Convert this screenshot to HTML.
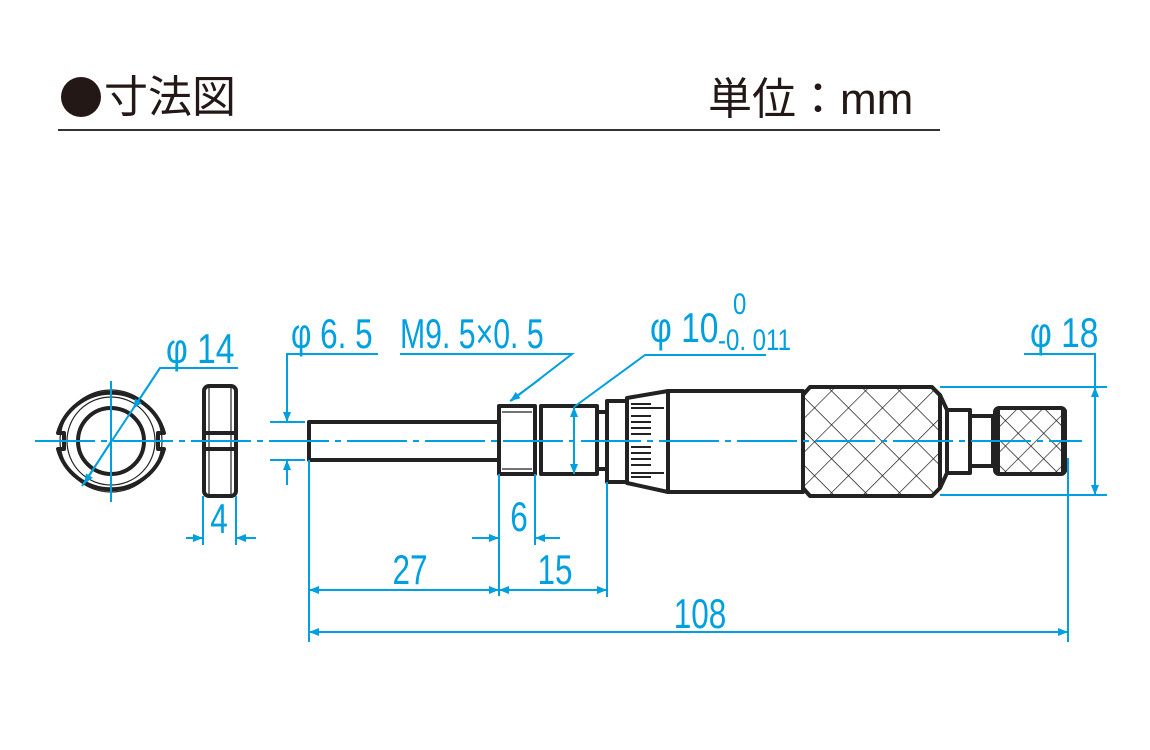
<!DOCTYPE html>
<html><head><meta charset="utf-8"><style>
html,body{margin:0;padding:0;background:#fff;width:1150px;height:750px;overflow:hidden}
svg{display:block}
.d{font-family:"Liberation Sans",sans-serif;fill:#00a0e0;font-size:42px}
.h{font-family:"Liberation Sans","Noto Sans CJK JP",sans-serif;fill:#231815;font-size:44px}
</style></head><body>
<svg width="1150" height="750" viewBox="0 0 1150 750" xmlns="http://www.w3.org/2000/svg">
<defs>
<pattern id="kn" width="24" height="24" patternUnits="userSpaceOnUse" patternTransform="rotate(45)">
<line x1="0" y1="0" x2="0" y2="24" stroke="#222" stroke-width="1.4"/>
<line x1="0" y1="0" x2="24" y2="0" stroke="#222" stroke-width="1.4"/>
</pattern>
<pattern id="kn2" width="18" height="18" patternUnits="userSpaceOnUse" patternTransform="rotate(45)">
<line x1="0" y1="0" x2="0" y2="18" stroke="#222" stroke-width="1.4"/>
<line x1="0" y1="0" x2="18" y2="0" stroke="#222" stroke-width="1.4"/>
</pattern>
<marker id="a" viewBox="0 0 10 10" refX="10" refY="5" markerWidth="14" markerHeight="10" markerUnits="userSpaceOnUse" orient="auto-start-reverse"><path d="M0,1 L10,5 L0,9 z" fill="#00a0e0"/></marker>
</defs>
<!-- header -->
<circle cx="81" cy="97" r="20" fill="#231815"/>
<text class="h" x="104" y="112">寸法図</text>
<text class="h" x="708" y="114">単位：mm</text>
<line x1="58" y1="130" x2="940" y2="130" stroke="#333" stroke-width="2"/>

<g fill="none" stroke="#222" stroke-width="4" stroke-linejoin="round">
<path d="M58,433 A55,55 0 0 1 164,433 L158,433 L158,449 L164,449 A55,55 0 0 1 58,449 L64,449 L64,433 Z"/>
<circle cx="111" cy="441" r="33" />
<circle cx="111" cy="441" r="44" stroke-width="1.2"/>
<circle cx="111" cy="441" r="51" stroke-width="1.2"/>
<rect x="204" y="386" width="32" height="110" rx="5"/>
<line x1="204" y1="433" x2="236" y2="433"/><line x1="204" y1="449" x2="236" y2="449"/>
<line x1="209" y1="388" x2="209" y2="494" stroke-width="1.2"/><line x1="231" y1="388" x2="231" y2="494" stroke-width="1.2"/>
<rect x="309" y="422" width="190" height="38"/>
<rect x="499" y="406" width="36" height="68"/>
<line x1="502" y1="412" x2="532" y2="412" stroke-width="1.2"/><line x1="502" y1="469" x2="532" y2="469" stroke-width="1.2"/>
<rect x="541" y="406" width="56" height="68"/>
<rect x="597" y="412" width="10" height="57"/>
<rect x="607" y="401" width="20" height="81"/>
<path d="M627,398 L668,391 L668,492 L627,483 Z"/>
<rect x="668" y="391" width="135" height="101"/>
<path d="M810,387 L932,387 L940,395 L940,488 L932,496 L810,496 L803,488 L803,395 Z" fill="url(#kn)"/>
<path d="M940,395 L947,410 L947,473 L940,488"/>
<rect x="947" y="410" width="23" height="63"/>
<rect x="970" y="416" width="23" height="50"/>
<rect x="995" y="408" width="70" height="66" rx="4" fill="url(#kn2)"/>
<line x1="997" y1="410" x2="997" y2="472" stroke-width="6"/><line x1="1064" y1="410" x2="1064" y2="472" stroke-width="6"/>
</g>
<g stroke="#222" stroke-width="2">
<line x1="631" y1="404" x2="651" y2="404"/><line x1="631" y1="408" x2="664" y2="408"/>
<line x1="631" y1="416" x2="651" y2="416"/><line x1="631" y1="422" x2="651" y2="422"/><line x1="631" y1="428" x2="651" y2="428"/><line x1="631" y1="434" x2="651" y2="434"/>
<line x1="631" y1="447" x2="651" y2="447"/><line x1="631" y1="453" x2="651" y2="453"/><line x1="631" y1="459" x2="651" y2="459"/><line x1="631" y1="465" x2="651" y2="465"/>
<line x1="631" y1="473" x2="664" y2="473"/><line x1="631" y1="477" x2="651" y2="477"/>
</g>

<g stroke="#00a0e0" stroke-width="2" fill="none">
<line x1="35" y1="441" x2="1082" y2="441" stroke-dasharray="60,6,6,6"/>
<line x1="111" y1="381" x2="111" y2="502"/>
<polyline points="238,368 160,368 82,486"/>
<line x1="160" y1="368" x2="133" y2="409" marker-end="url(#a)" />
<line x1="112" y1="440" x2="84" y2="484" marker-end="url(#a)"/>
<line x1="203" y1="496" x2="203" y2="545"/><line x1="236" y1="496" x2="236" y2="545"/>
<line x1="186" y1="538" x2="203" y2="538" marker-end="url(#a)"/><line x1="256" y1="538" x2="236" y2="538" marker-end="url(#a)"/>
<line x1="270" y1="422" x2="305" y2="422"/><line x1="270" y1="460" x2="305" y2="460"/>
<polyline points="378,354 287,354 287,422"/>
<line x1="287" y1="400" x2="287" y2="422" marker-end="url(#a)"/>
<line x1="287" y1="485" x2="287" y2="460" marker-end="url(#a)"/>
<polyline points="400,354 572,354 511,401"/>
<line x1="540" y1="379" x2="510" y2="401" marker-end="url(#a)"/>
<polyline points="766,355 645,355 574,407"/>
<line x1="574" y1="440" x2="574" y2="407" marker-end="url(#a)"/>
<line x1="574" y1="440" x2="574" y2="474" marker-end="url(#a)"/>
<line x1="940" y1="387" x2="1107" y2="387"/><line x1="940" y1="495" x2="1107" y2="495"/>
<polyline points="1024,354 1095,354 1095,387"/>
<line x1="1095" y1="441" x2="1095" y2="387" marker-end="url(#a)"/>
<line x1="1095" y1="441" x2="1095" y2="495" marker-end="url(#a)"/>
<line x1="499" y1="474" x2="499" y2="596"/><line x1="535" y1="474" x2="535" y2="545"/>
<line x1="472" y1="538" x2="499" y2="538" marker-end="url(#a)"/><line x1="560" y1="538" x2="535" y2="538" marker-end="url(#a)"/>
<line x1="309" y1="460" x2="309" y2="642"/><line x1="607" y1="482" x2="607" y2="597"/>
<line x1="309" y1="590" x2="499" y2="590" marker-start="url(#a)" marker-end="url(#a)"/>
<line x1="499" y1="590" x2="607" y2="590" marker-start="url(#a)" marker-end="url(#a)"/>
<line x1="1068" y1="458" x2="1068" y2="642"/>
<line x1="309" y1="632" x2="1068" y2="632" marker-start="url(#a)" marker-end="url(#a)"/>
</g>
<g class="d">
<text x="166" y="363" transform="translate(166 0) scale(0.8 1) translate(-166 0)">φ 14</text>
<text x="291" y="348" transform="translate(291 0) scale(0.75 1) translate(-291 0)">φ 6. 5</text>
<text x="400" y="348" transform="translate(400 0) scale(0.72 1) translate(-400 0)">M9. 5×0. 5</text>
<text x="650" y="342" transform="translate(650 0) scale(0.8 1) translate(-650 0)">φ 10</text>
<text x="733" y="314" font-size="30" transform="translate(733 0) scale(0.8 1) translate(-733 0)">0</text>
<text x="718" y="350" font-size="30" transform="translate(718 0) scale(0.8 1) translate(-718 0)">-0. 011</text>
<text x="1030" y="347" transform="translate(1030 0) scale(0.8 1) translate(-1030 0)">φ 18</text>
<text x="219" y="533" text-anchor="middle" transform="translate(219 0) scale(0.75 1) translate(-219 0)">4</text>
<text x="519" y="531" text-anchor="middle" transform="translate(519 0) scale(0.75 1) translate(-519 0)">6</text>
<text x="410" y="584" text-anchor="middle" transform="translate(410 0) scale(0.75 1) translate(-410 0)">27</text>
<text x="555" y="584" text-anchor="middle" transform="translate(555 0) scale(0.75 1) translate(-555 0)">15</text>
<text x="700" y="628" text-anchor="middle" transform="translate(700 0) scale(0.75 1) translate(-700 0)">108</text>
</g>
</svg>
</body></html>
